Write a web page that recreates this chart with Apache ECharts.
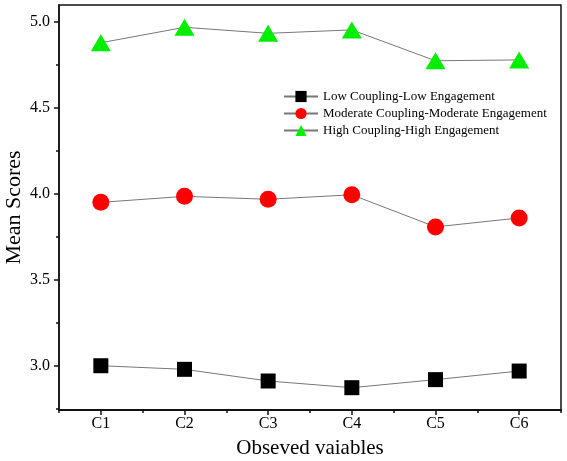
<!DOCTYPE html>
<html>
<head>
<meta charset="utf-8">
<script src="https://cdn.jsdelivr.net/npm/echarts@6/dist/echarts.min.js"></script>
<style>
  html, body { margin: 0; padding: 0; background: #fff; }
  #chart { width: 567px; height: 461px; }
</style>
</head>
<body>
<div id="chart"></div>
<script>
// 数据
const categories = ['C1', 'C2', 'C3', 'C4', 'C5', 'C6']
const lowLow = [2.998, 2.977, 2.909, 2.870, 2.917, 2.967]
const modMod = [3.950, 3.985, 3.968, 3.994, 3.807, 3.859]
const highHigh = [4.880, 4.970, 4.935, 4.955, 4.775, 4.780]
const majorTicks = [3.0, 3.5, 4.0, 4.5, 5.0]
const minorTicks = [2.75, 3.25, 3.75, 4.25, 4.75]

const serif = 'Liberation Serif'
const chart = echarts.init(document.getElementById('chart'))

function makeSeries(name, data, symbol, size, color) {
  return {
    name: name,
    type: 'line',
    data: data,
    symbol: symbol,
    symbolSize: size,
    itemStyle: { color: color },
    lineStyle: { color: '#777', width: 1 },
    emphasis: { disabled: true },
  }
}

chart.setOption({
  animation: false,
  grid: {
    left: 59,
    right: 6,
    top: 5,
    bottom: 51,
    outerBoundsMode: 'none',
    containLabel: false,
    show: true,
    borderColor: '#111',
    borderWidth: 1.5,
  },
  legend: {
    orient: 'vertical',
    left: 278,
    top: 85,
    itemWidth: 34,
    itemHeight: 14,
    itemGap: 4,
    textStyle: { fontFamily: serif, fontSize: 13, color: '#000' },
    data: ['Low Coupling-Low Engagement', 'Moderate Coupling-Moderate Engagement', 'High Coupling-High Engagement'],
  },
  xAxis: [
    {
      type: 'category',
      data: categories,
      name: 'Obseved vaiables',
      nameLocation: 'middle',
      nameGap: 28,
      nameMoveOverlap: false,
      nameTextStyle: { fontFamily: serif, fontSize: 21, color: '#000' },
      axisLine: { lineStyle: { color: '#111', width: 1.5 } },
      axisTick: { show: true, alignWithLabel: true, length: 5, lineStyle: { color: '#111', width: 1.5 } },
      axisLabel: { fontFamily: serif, fontSize: 16, color: '#000', margin: 6 },
    },
    {
      type: 'category',
      data: categories,
      position: 'bottom',
      axisLine: { show: true, lineStyle: { color: '#111', width: 1.5 } },
      axisTick: { show: true, interval: 0, length: 3, lineStyle: { color: '#111', width: 1.5 } },
      axisLabel: { show: false },
    },
  ],
  yAxis: [
    {
      type: 'value',
      min: 2.74,
      max: 5.1,
      name: 'Mean Scores',
      nameLocation: 'middle',
      nameGap: 34,
      nameMoveOverlap: false,
      nameTextStyle: { fontFamily: serif, fontSize: 22, color: '#000' },
      splitLine: { show: false },
      axisLine: { show: true, lineStyle: { color: '#111', width: 1.5 } },
      axisTick: { show: true, length: 5, customValues: majorTicks, lineStyle: { color: '#111', width: 1.5 } },
      axisLabel: {
        fontFamily: serif, fontSize: 16, color: '#000', margin: 9,
        customValues: majorTicks,
        formatter: v => v.toFixed(1),
      },
    },
    {
      type: 'value',
      min: 2.74,
      max: 5.1,
      position: 'left',
      splitLine: { show: false },
      axisLine: { show: false },
      axisTick: { show: true, length: 3, customValues: minorTicks, lineStyle: { color: '#111', width: 1.5 } },
      axisLabel: { show: false },
    },
  ],
  series: [
    makeSeries('Low Coupling-Low Engagement', lowLow, 'rect', 15, '#000'),
    makeSeries('Moderate Coupling-Moderate Engagement', modMod, 'circle', 17, '#ff0000'),
    makeSeries('High Coupling-High Engagement', highHigh, 'triangle', [20, 17], '#00ee00'),
  ],
})
</script>
</body>
</html>
